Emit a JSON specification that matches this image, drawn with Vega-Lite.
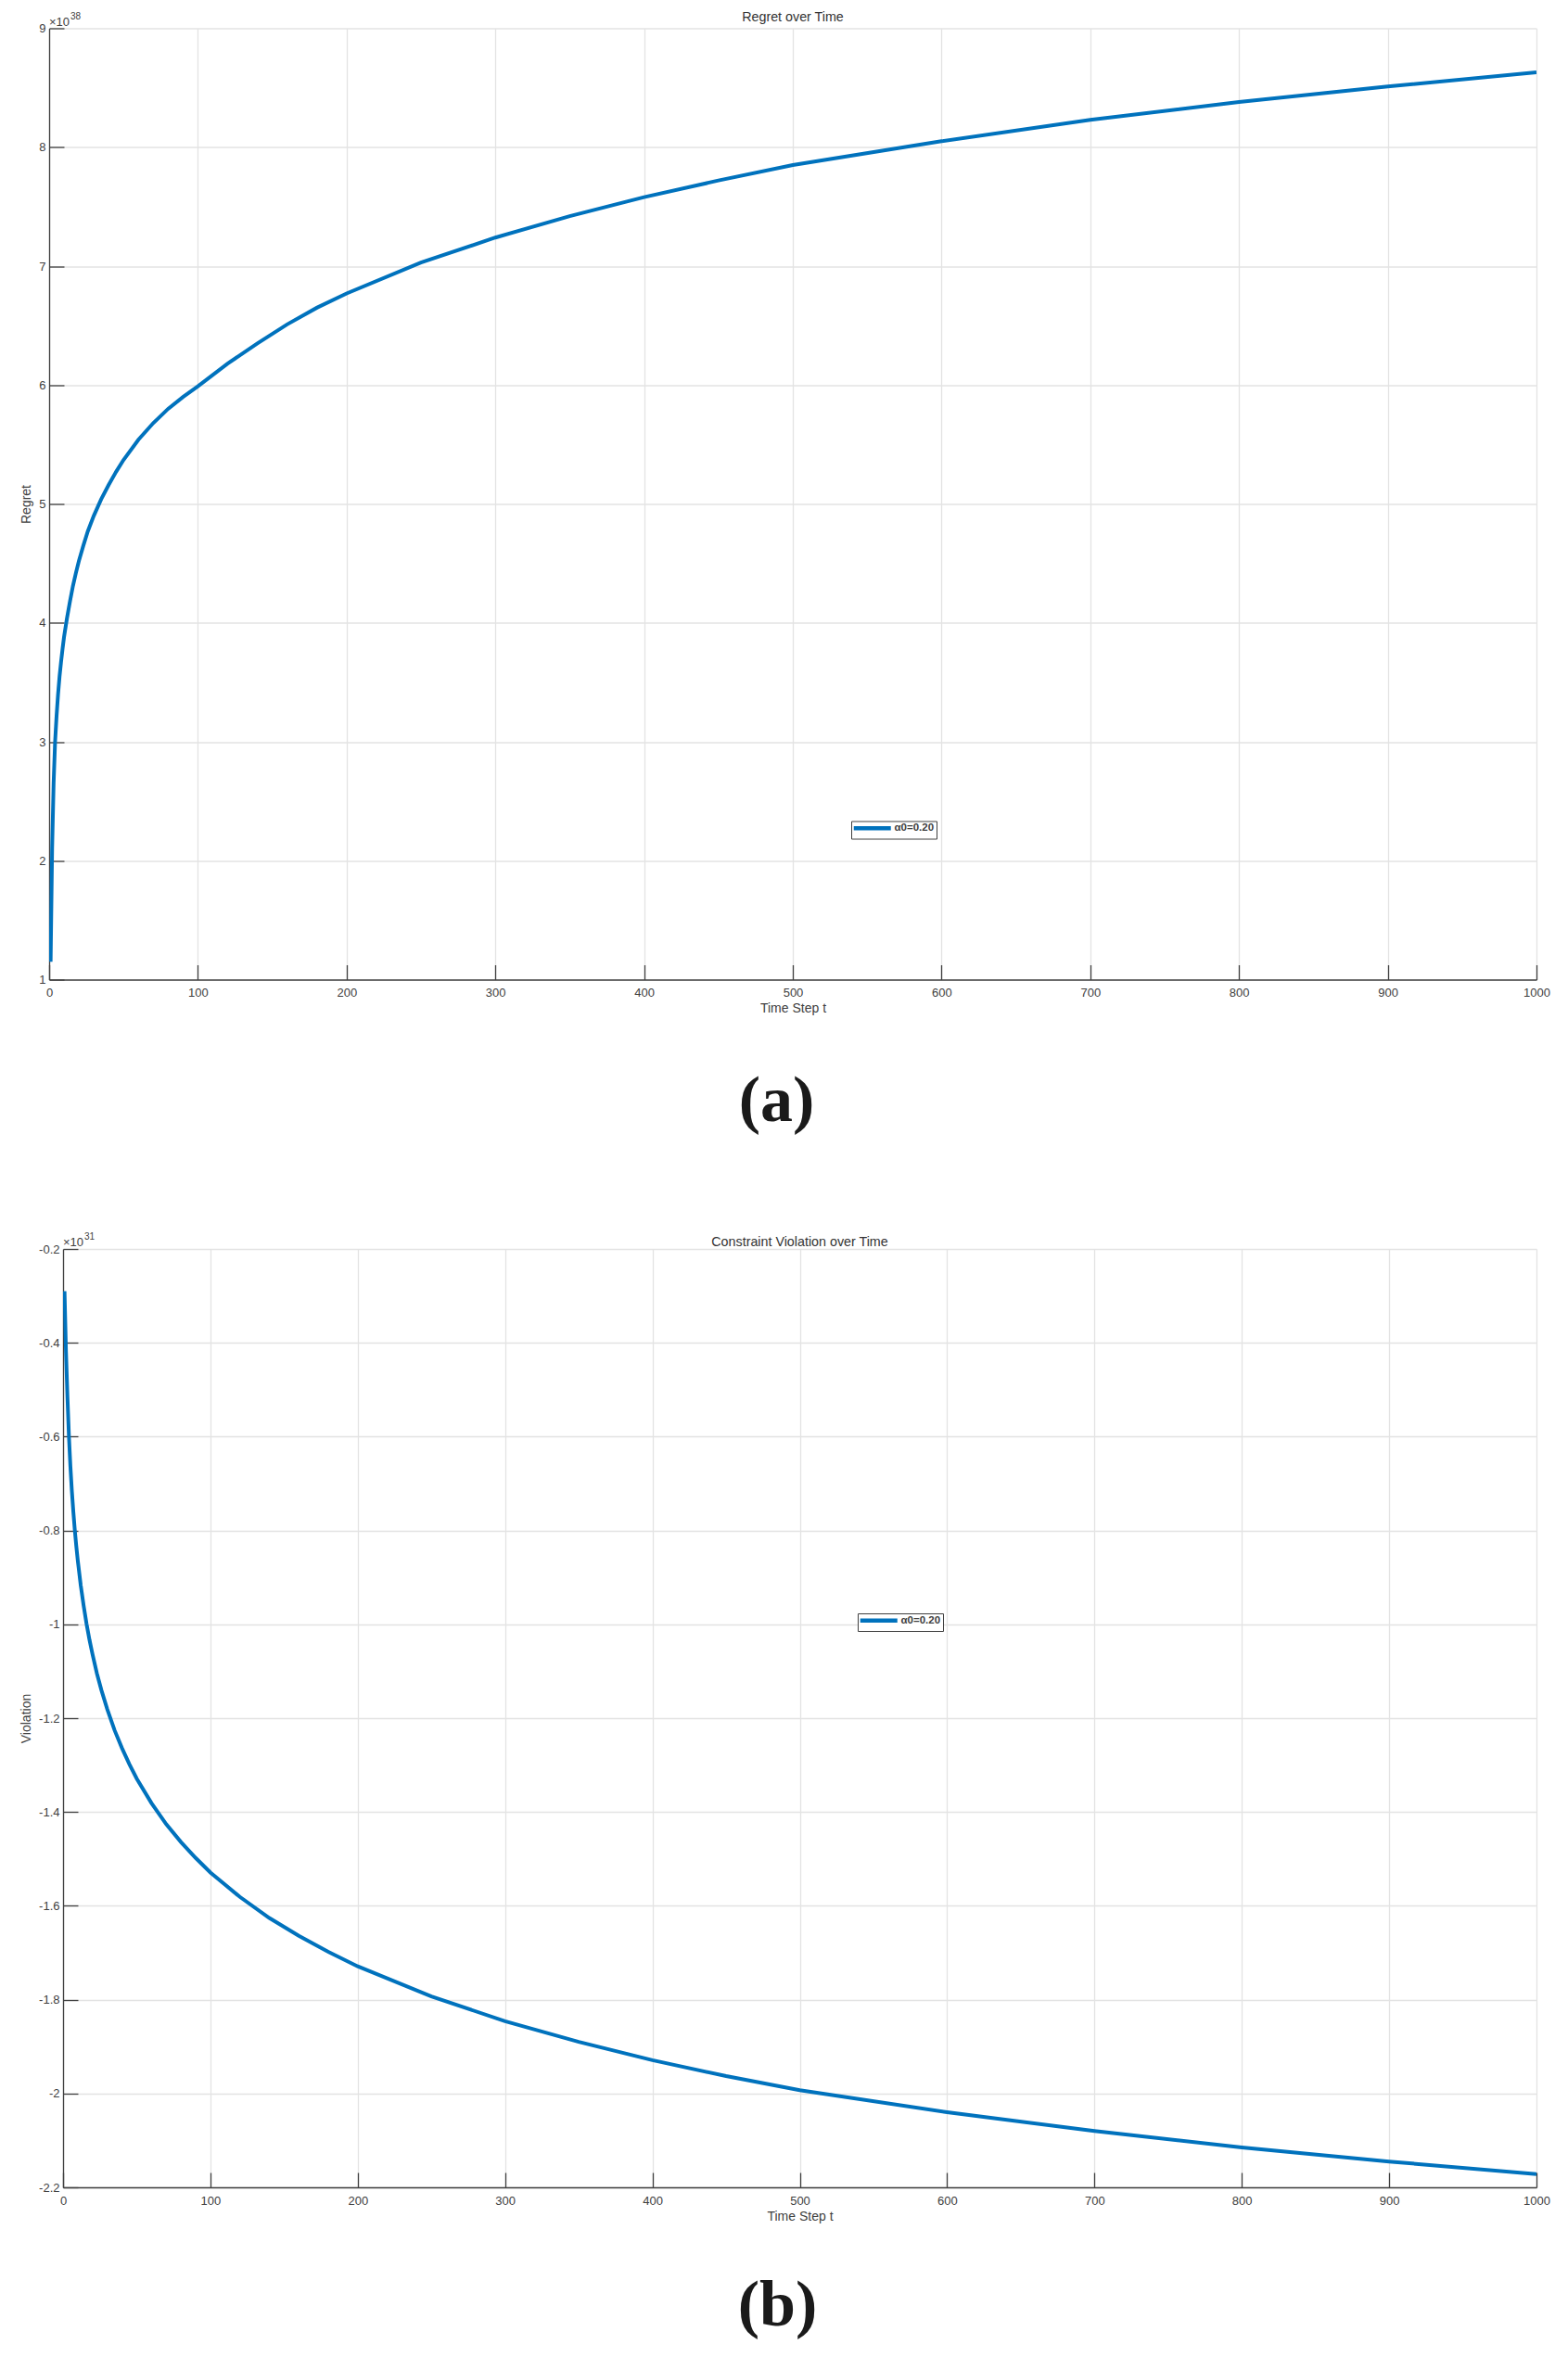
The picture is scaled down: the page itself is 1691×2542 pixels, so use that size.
{
  "$schema": "https://vega.github.io/schema/vega-lite/v6.json",
  "padding": {"left": 21, "top": 11.5, "right": 5, "bottom": 5},
  "config": {
    "view": {"stroke": null},
    "font": "Liberation Sans",
    "axis": {
      "domainColor": "#404040", "domainWidth": 1.3,
      "tickColor": "#404040", "tickWidth": 1.3, "tickSize": -16,
      "gridColor": "#e3e3e3", "gridWidth": 1.3,
      "labelFont": "Liberation Sans", "labelFontSize": 13, "labelColor": "#404040",
      "titleFont": "Liberation Sans", "titleFontSize": 14, "titleFontWeight": "normal", "titleColor": "#404040",
      "labelFlush": false, "labelOverlap": false
    },
    "legend": {
      "orient": "none", "strokeColor": "#404040", "fillColor": "white", "padding": 2,
      "symbolType": "M-2.5,0H17.5", "symbolSize": 16, "symbolStrokeWidth": 4.5, "labelOffset": 33,
      "labelFont": "Liberation Sans", "labelFontSize": 11.5, "labelFontWeight": "bold", "labelColor": "#404040",
      "title": null
    }
  },
  "spacing": 106.5,
  "resolve": {"scale": {"color": "independent"}, "legend": {"color": "independent"}},
  "vconcat": [
    {
      "title": {"text": "(a)", "orient": "bottom", "offset": 59, "dx": -9, "font": "Liberation Serif", "fontSize": 70, "fontWeight": "bold", "color": "#1a1a1a", "anchor": "middle"},
      "resolve": {"scale": {"color": "independent"}, "legend": {"color": "independent"}},
      "vconcat": [
        {
          "width": 1604, "height": 1026,
          "title": {"text": "Regret over Time", "frame": "group", "offset": -25, "baseline": "alphabetic", "fontSize": 14.3, "fontWeight": "normal", "font": "Liberation Sans", "color": "#333333"},
          "data": {"values": [
            {"t": 1, "regret": 1.15}, {"t": 2, "regret": 2.1}, {"t": 3, "regret": 2.65}, {"t": 4, "regret": 3.0},
            {"t": 5, "regret": 3.22}, {"t": 6, "regret": 3.4}, {"t": 7, "regret": 3.55}, {"t": 8, "regret": 3.67},
            {"t": 9, "regret": 3.78}, {"t": 10, "regret": 3.88}, {"t": 12, "regret": 4.04}, {"t": 14, "regret": 4.18},
            {"t": 16, "regret": 4.31}, {"t": 18, "regret": 4.42}, {"t": 20, "regret": 4.52}, {"t": 23, "regret": 4.65},
            {"t": 26, "regret": 4.77}, {"t": 30, "regret": 4.9}, {"t": 35, "regret": 5.04}, {"t": 40, "regret": 5.16},
            {"t": 45, "regret": 5.27}, {"t": 50, "regret": 5.37}, {"t": 60, "regret": 5.54}, {"t": 70, "regret": 5.68},
            {"t": 80, "regret": 5.8}, {"t": 90, "regret": 5.9}, {"t": 100, "regret": 5.99}, {"t": 120, "regret": 6.18},
            {"t": 140, "regret": 6.35}, {"t": 160, "regret": 6.51}, {"t": 180, "regret": 6.65}, {"t": 200, "regret": 6.77},
            {"t": 250, "regret": 7.03}, {"t": 300, "regret": 7.24}, {"t": 350, "regret": 7.42}, {"t": 400, "regret": 7.58},
            {"t": 450, "regret": 7.72}, {"t": 500, "regret": 7.85}, {"t": 600, "regret": 8.05}, {"t": 700, "regret": 8.23},
            {"t": 800, "regret": 8.38}, {"t": 900, "regret": 8.51}, {"t": 1000, "regret": 8.63}
          ]},
          "layer": [
            {
              "mark": {"type": "line", "strokeWidth": 4, "clip": true},
              "encoding": {
                "x": {"field": "t", "type": "quantitative", "scale": {"domain": [0, 1000], "nice": false},
                      "axis": {"title": "Time Step t", "values": [0,100,200,300,400,500,600,700,800,900,1000], "format": "d", "labelPadding": 24, "titlePadding": 3}},
                "y": {"field": "regret", "type": "quantitative", "scale": {"domain": [1, 9], "nice": false, "zero": false},
                      "axis": {"title": "Regret", "values": [1,2,3,4,5,6,7,8,9], "format": "d", "labelPadding": 20, "titlePadding": 6}},
                "color": {"datum": "α0=0.20", "type": "nominal", "scale": {"range": ["#0072BD"]},
                          "legend": {"legendX": 865, "legendY": 855}}
              }
            },
            {
              "data": {"values": [{}]},
              "mark": {"type": "text", "align": "left", "baseline": "alphabetic", "dy": -3, "fontSize": 13, "color": "#404040", "font": "Liberation Sans"},
              "encoding": {"x": {"datum": 0}, "y": {"datum": 9}, "text": {"value": "×10"}}
            },
            {
              "data": {"values": [{}]},
              "mark": {"type": "text", "align": "left", "baseline": "alphabetic", "dx": 23, "dy": -10, "fontSize": 10, "color": "#404040", "font": "Liberation Sans"},
              "encoding": {"x": {"datum": 0}, "y": {"datum": 9}, "text": {"value": "38"}}
            }
          ]
        }
      ]
    },
    {
      "title": {"text": "(b)", "orient": "bottom", "offset": 56, "dx": -8, "font": "Liberation Serif", "fontSize": 70, "fontWeight": "bold", "color": "#1a1a1a", "anchor": "middle"},
      "resolve": {"scale": {"color": "independent"}, "legend": {"color": "independent"}},
      "spacing": -33,
      "hconcat": [
        {
          "width": 1, "height": 1,
          "data": {"values": []},
          "mark": "point"
        },
        {
          "width": 1589, "height": 1012,
          "title": {"text": "Constraint Violation over Time", "frame": "group", "offset": -29, "baseline": "alphabetic", "fontSize": 14.3, "fontWeight": "normal", "font": "Liberation Sans", "color": "#333333"},
          "data": {"values": [
            {"t": 1, "violation": -0.29}, {"t": 2, "violation": -0.42}, {"t": 3, "violation": -0.517}, {"t": 4, "violation": -0.6},
            {"t": 5, "violation": -0.664}, {"t": 6, "violation": -0.717}, {"t": 7, "violation": -0.761}, {"t": 8, "violation": -0.8},
            {"t": 9, "violation": -0.834}, {"t": 10, "violation": -0.864}, {"t": 12, "violation": -0.917}, {"t": 14, "violation": -0.961},
            {"t": 16, "violation": -1.0}, {"t": 18, "violation": -1.034}, {"t": 20, "violation": -1.064}, {"t": 23, "violation": -1.105},
            {"t": 26, "violation": -1.14}, {"t": 30, "violation": -1.181}, {"t": 35, "violation": -1.226}, {"t": 40, "violation": -1.264},
            {"t": 45, "violation": -1.298}, {"t": 50, "violation": -1.329}, {"t": 60, "violation": -1.381}, {"t": 70, "violation": -1.426},
            {"t": 80, "violation": -1.464}, {"t": 90, "violation": -1.498}, {"t": 100, "violation": -1.529}, {"t": 120, "violation": -1.581},
            {"t": 140, "violation": -1.626}, {"t": 160, "violation": -1.664}, {"t": 180, "violation": -1.698}, {"t": 200, "violation": -1.729},
            {"t": 250, "violation": -1.793}, {"t": 300, "violation": -1.846}, {"t": 350, "violation": -1.89}, {"t": 400, "violation": -1.929},
            {"t": 450, "violation": -1.963}, {"t": 500, "violation": -1.993}, {"t": 600, "violation": -2.04}, {"t": 700, "violation": -2.08},
            {"t": 800, "violation": -2.115}, {"t": 900, "violation": -2.145}, {"t": 1000, "violation": -2.172}
          ]},
          "layer": [
            {
              "mark": {"type": "line", "strokeWidth": 4, "clip": true},
              "encoding": {
                "x": {"field": "t", "type": "quantitative", "scale": {"domain": [0, 1000], "nice": false},
                      "axis": {"title": "Time Step t", "values": [0,100,200,300,400,500,600,700,800,900,1000], "format": "d", "labelPadding": 24, "titlePadding": 3}},
                "y": {"field": "violation", "type": "quantitative", "scale": {"domain": [-2.2, -0.2], "nice": false, "zero": false},
                      "axis": {"title": "Violation", "values": [-2.2,-2,-1.8,-1.6,-1.4,-1.2,-1,-0.8,-0.6,-0.4,-0.2], "labelExpr": "'' + datum.value", "labelPadding": 20, "titlePadding": 6}},
                "color": {"datum": "α0=0.20", "type": "nominal", "scale": {"range": ["#0072BD"]},
                          "legend": {"legendX": 857, "legendY": 393}}
              }
            },
            {
              "data": {"values": [{}]},
              "mark": {"type": "text", "align": "left", "baseline": "alphabetic", "dy": -3, "fontSize": 13, "color": "#404040", "font": "Liberation Sans"},
              "encoding": {"x": {"datum": 0}, "y": {"datum": -0.2}, "text": {"value": "×10"}}
            },
            {
              "data": {"values": [{}]},
              "mark": {"type": "text", "align": "left", "baseline": "alphabetic", "dx": 23, "dy": -10, "fontSize": 10, "color": "#404040", "font": "Liberation Sans"},
              "encoding": {"x": {"datum": 0}, "y": {"datum": -0.2}, "text": {"value": "31"}}
            }
          ]
        }
      ]
    }
  ]
}
